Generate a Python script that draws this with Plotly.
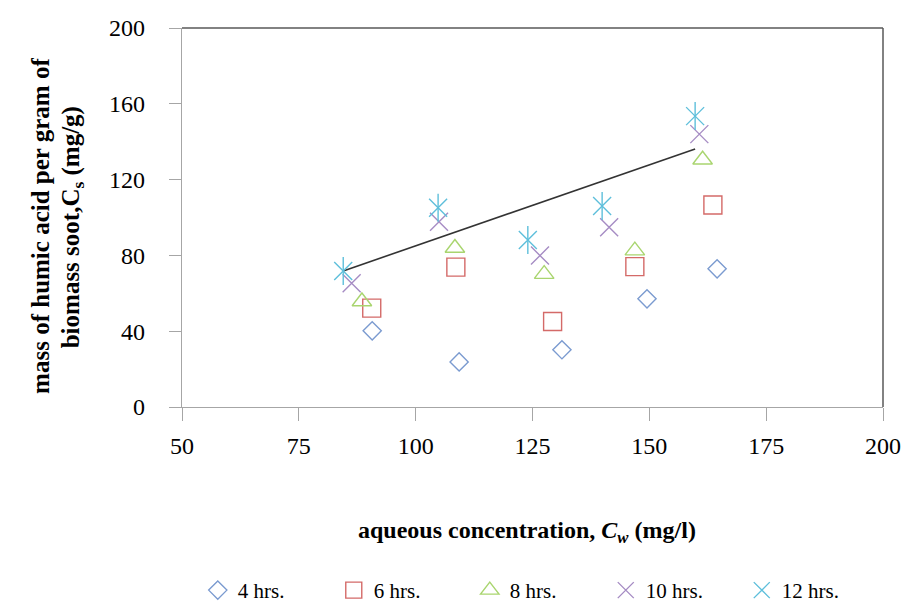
import plotly.graph_objects as go

# ---- data ----
x_4 = [90.7, 109.3, 131.3, 149.5, 164.5]
y_4 = [40.2, 23.8, 30.2, 57.1, 72.9]
x_6 = [90.6, 108.6, 129.3, 146.9, 163.6]
y_6 = [52.2, 73.8, 45.1, 74.1, 106.6]
x_8 = [88.5, 108.4, 127.5, 146.9, 161.4]
y_8 = [55.7, 83.9, 70.1, 82.5, 130.5]
x_10 = [86.3, 105.0, 126.6, 141.4, 160.7]
y_10 = [65.3, 97.8, 79.9, 94.8, 144.0]
x_12 = [84.5, 104.8, 124.0, 139.9, 159.8]
y_12 = [71.8, 105.2, 88.1, 106.1, 153.5]
trend_x = [84.5, 159.8]
trend_y = [71.8, 136.1]

names = ["4 hrs.", "6 hrs.", "8 hrs.", "10 hrs.", "12 hrs."]
x_ticks = [50, 75, 100, 125, 150, 175, 200]
y_ticks = [0, 40, 80, 120, 160, 200]

FONT = "Liberation Serif, Times New Roman, serif"
C4, C6, C8, C10, C12 = "#7b9bd0", "#d46a68", "#a9d56f", "#a68cc4", "#5ebfdb"

fig = go.Figure()
fig.add_trace(go.Scatter(x=trend_x, y=trend_y, mode="lines",
                         line=dict(color="#333333", width=1.6), showlegend=False, hoverinfo="skip"))
fig.add_trace(go.Scatter(x=x_4, y=y_4, mode="markers", name=names[0],
                         marker=dict(symbol="diamond-open", size=14, color=C4, line=dict(width=1.4, color=C4))))
fig.add_trace(go.Scatter(x=x_6, y=y_6, mode="markers", name=names[1],
                         marker=dict(symbol="square-open", size=18, color=C6, line=dict(width=1.4, color=C6))))
fig.add_trace(go.Scatter(x=x_8, y=y_8, mode="markers", name=names[2],
                         marker=dict(symbol="triangle-up-open", size=17, color=C8, line=dict(width=1.4, color=C8))))
fig.add_trace(go.Scatter(x=x_10, y=y_10, mode="markers", name=names[3],
                         marker=dict(symbol="x-thin-open", size=18, color=C10, line=dict(width=1.4, color=C10))))
fig.add_trace(go.Scatter(x=x_12, y=y_12, mode="markers", name=names[4], legendgroup="g12",
                         marker=dict(symbol="x-thin-open", size=18, color=C12, line=dict(width=1.4, color=C12))))
fig.add_trace(go.Scatter(x=x_12, y=y_12, mode="markers", name=names[4], legendgroup="g12", showlegend=False,
                         marker=dict(symbol="line-ns-open", size=20, color=C12, line=dict(width=1.4, color=C12))))

fig.update_layout(
    width=904, height=608,
    margin=dict(l=182, r=21, t=28, b=201, autoexpand=False),
    paper_bgcolor="white", plot_bgcolor="white",
    font=dict(family=FONT, color="black"),
    xaxis=dict(range=[50, 200], tickvals=x_ticks, ticktext=[str(v) for v in x_ticks], automargin=False,
               showgrid=False, zeroline=False, showline=True, linecolor="#a6a6a6", linewidth=1.3,
               ticks="outside", ticklen=13, tickcolor="#a6a6a6", tickwidth=1.3,
               tickfont=dict(family=FONT, size=24, color="black"), ticklabelstandoff=4),
    yaxis=dict(range=[0, 200], tickvals=y_ticks, ticktext=[str(v) for v in y_ticks], automargin=False,
               showgrid=False, zeroline=False, showline=True, linecolor="#a6a6a6", linewidth=1.3,
               ticks="outside", ticklen=12, tickcolor="#a6a6a6", tickwidth=1.3,
               tickfont=dict(family=FONT, size=24, color="black"), ticklabelstandoff=19),
    legend=dict(orientation="h", x=0.0225, xanchor="left", y=-0.43, yanchor="top",
                font=dict(family=FONT, size=21, color="black"), entrywidth=91,
                bgcolor="rgba(0,0,0,0)"),
    shapes=[
        dict(type="line", xref="paper", yref="paper", x0=0, x1=1, y0=1, y1=1,
             line=dict(color="#595959", width=1.5)),
        dict(type="line", xref="paper", yref="paper", x0=1, x1=1, y0=0, y1=1,
             line=dict(color="#595959", width=1.5)),
    ],
    annotations=[
        dict(text="<b>aqueous concentration, <i>C</i><sub><i>w</i></sub> (mg/l)</b>", xref="paper", yref="paper",
             x=0.492, y=-0.331, xanchor="center", yanchor="middle", showarrow=False,
             font=dict(family=FONT, size=24, color="black")),
        dict(text="<b>mass of humic acid per gram of</b>", xref="paper", yref="paper",
             x=-0.2013, y=0.4776, xanchor="center", yanchor="middle", showarrow=False, textangle=-90,
             font=dict(family=FONT, size=25, color="black")),
        dict(text="<b>biomass soot,C<sub>s</sub> (mg/g)</b>", xref="paper", yref="paper",
             x=-0.157, y=0.474, xanchor="center", yanchor="middle", showarrow=False, textangle=-90,
             font=dict(family=FONT, size=25, color="black")),
    ],
)

# remove the browser's default 8px page margin so the 904x608 figure fills the window exactly
fig.write_html("out.html", config={"displayModeBar": False},
               post_script="document.body.style.margin='0';document.body.style.overflow='hidden';")
